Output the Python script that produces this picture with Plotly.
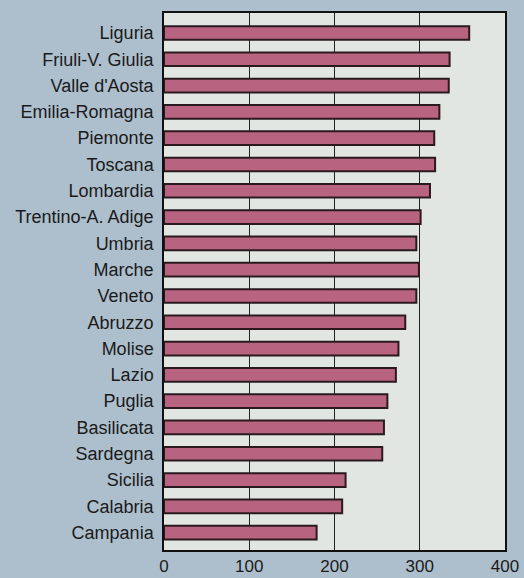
import plotly.graph_objects as go

regions = ["Liguria", "Friuli-V. Giulia", "Valle d'Aosta", "Emilia-Romagna", "Piemonte",
           "Toscana", "Lombardia", "Trentino-A. Adige", "Umbria", "Marche", "Veneto",
           "Abruzzo", "Molise", "Lazio", "Puglia", "Basilicata", "Sardegna", "Sicilia",
           "Calabria", "Campania"]
values = [358, 335, 334, 323, 317, 318, 312, 301, 296, 299, 296,
          283, 275, 272, 262, 258, 256, 213, 209, 179]
x_ticks = [0, 100, 200, 300, 400]

fig = go.Figure(go.Bar(
    x=values, y=regions, orientation="h",
    marker=dict(color="#b8637f", line=dict(color="#2a1a20", width=2)),
    width=0.52,
))

fig.update_layout(
    width=524, height=578,
    margin=dict(l=164, r=19, t=13, b=28),
    paper_bgcolor="#adbfcd",
    plot_bgcolor="#e1e6e3",
    showlegend=False,
    font=dict(family="Liberation Sans, Arial, sans-serif", color="#1a1a1a"),
)
fig.update_xaxes(
    range=[0, 400], tickvals=x_ticks, ticktext=[str(t) for t in x_ticks],
    showgrid=True, gridcolor="#222222", gridwidth=1,
    showline=True, linecolor="#111111", linewidth=1.5, mirror=True,
    zeroline=False, ticks="", tickfont=dict(size=17), ticklabelstandoff=0,
    automargin=False,
)
fig.update_yaxes(
    categoryorder="array", categoryarray=regions,
    range=[19.66, -0.76],
    showgrid=False, showline=True, linecolor="#111111", linewidth=1.5, mirror=True,
    ticks="", tickfont=dict(size=18), ticklabelstandoff=5,
    automargin=False,
)

fig.write_html(
    "out.html",
    config={"displayModeBar": False},
    post_script="document.body.style.margin='0';document.body.style.background='#adbfcd';",
)
